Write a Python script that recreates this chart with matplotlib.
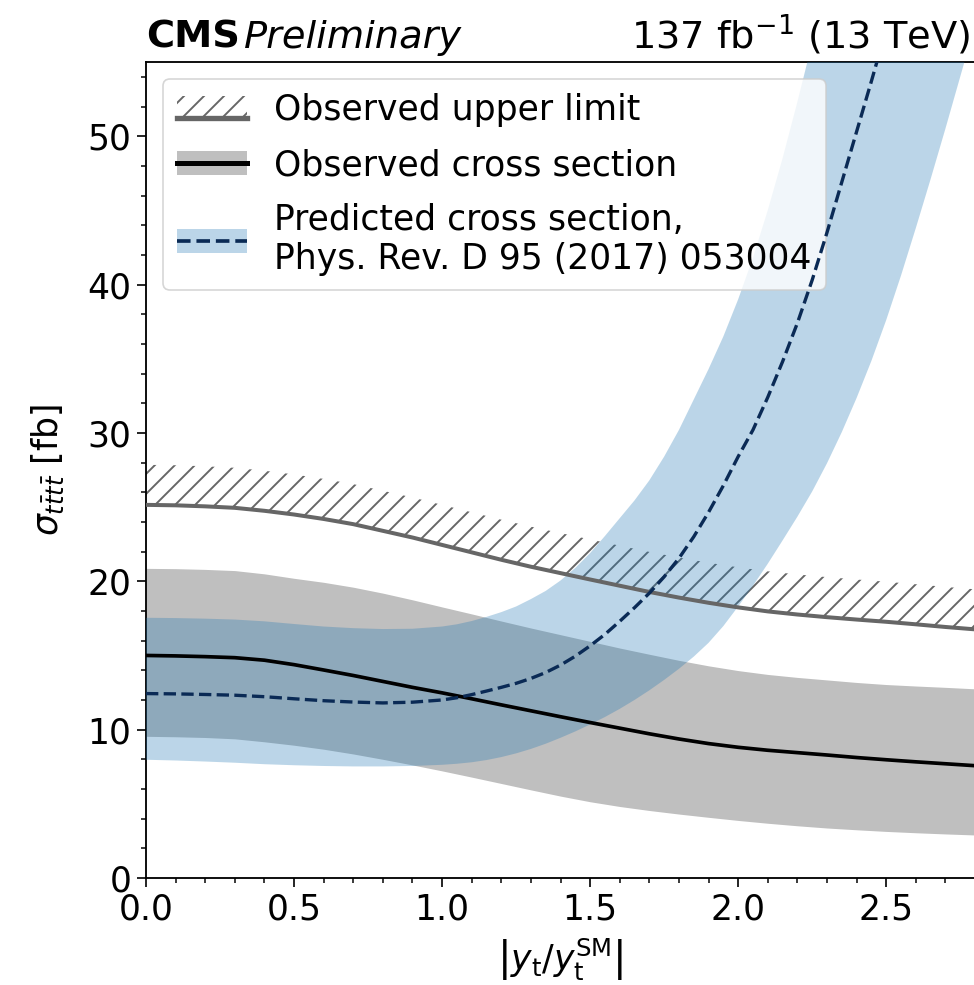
import matplotlib
matplotlib.use("Agg")
import matplotlib.pyplot as plt
from matplotlib.patches import Patch, Rectangle
from matplotlib.lines import Line2D
from matplotlib.legend_handler import HandlerBase, HandlerTuple
from matplotlib.ticker import MultipleLocator

# ---- data -------------------------------------------------------------
# |y_t / y_t^SM| grid of the measurement
kappa_t = [0.0, 0.1, 0.2, 0.3, 0.4, 0.5, 0.6, 0.7, 0.8, 0.9,
           1.0, 1.1, 1.2, 1.3, 1.4, 1.5, 1.6, 1.7, 1.8, 1.9,
           2.0, 2.1, 2.2, 2.3, 2.4, 2.5, 2.6, 2.7, 2.8]

# observed 95% CL upper limit on sigma(tttt) [fb]
obs_limit = [25.15, 25.12, 25.05, 24.95, 24.75, 24.50, 24.20, 23.85, 23.40, 22.95,
             22.45, 21.95, 21.45, 20.98, 20.55, 20.12, 19.70, 19.28, 18.90, 18.55,
             18.24, 17.97, 17.76, 17.58, 17.42, 17.27, 17.10, 16.92, 16.76]

# observed cross section and its uncertainty band [fb]
obs_xsec = [15.00, 14.97, 14.92, 14.85, 14.68, 14.38, 14.02, 13.65, 13.25, 12.85,
            12.48, 12.08, 11.67, 11.27, 10.87, 10.48, 10.10, 9.72, 9.37, 9.06,
            8.81, 8.61, 8.45, 8.29, 8.12, 7.97, 7.83, 7.70, 7.57]
obs_hi = [20.87, 20.85, 20.80, 20.72, 20.50, 20.20, 19.93, 19.60, 19.20, 18.75,
          18.27, 17.80, 17.32, 16.85, 16.40, 15.95, 15.50, 15.08, 14.67, 14.30,
          13.98, 13.72, 13.52, 13.35, 13.18, 13.04, 12.94, 12.85, 12.75]
obs_lo = [9.55, 9.52, 9.47, 9.38, 9.18, 8.95, 8.68, 8.36, 8.00, 7.62,
          7.22, 6.80, 6.37, 5.94, 5.52, 5.14, 4.82, 4.55, 4.31, 4.09,
          3.88, 3.69, 3.52, 3.37, 3.25, 3.14, 3.05, 2.97, 2.90]

# |y_t / y_t^SM| grid of the prediction
kappa_pred = [0.0, 0.1, 0.2, 0.3, 0.4, 0.5, 0.6, 0.7, 0.8, 0.9,
              1.00, 1.05, 1.10, 1.15, 1.20, 1.25, 1.30, 1.35, 1.40, 1.45,
              1.50, 1.55, 1.60, 1.65, 1.70, 1.75, 1.80, 1.85, 1.90, 1.95,
              2.00, 2.05, 2.10, 2.15, 2.20, 2.25, 2.30, 2.35, 2.40, 2.45,
              2.50, 2.55, 2.60, 2.65, 2.70, 2.75, 2.80]

# predicted cross section (Phys. Rev. D 95 (2017) 053004) and its band [fb]
pred_xsec = [12.43, 12.41, 12.37, 12.32, 12.22, 12.08, 11.95, 11.86, 11.80, 11.85,
             12.00, 12.15, 12.36, 12.60, 12.85, 13.12, 13.45, 13.85, 14.35, 14.95,
             15.65, 16.42, 17.30, 18.22, 19.20, 20.30, 21.55, 23.00, 24.65, 26.45,
             28.40, 30.20, 32.40, 34.80, 37.40, 40.30, 43.50, 46.90, 50.30, 53.70,
             57.20, 60.80, 64.50, 68.20, 72.00, 76.00, 80.00]
pred_hi = [17.54, 17.52, 17.48, 17.42, 17.30, 17.12, 16.95, 16.84, 16.78, 16.80,
           16.95, 17.10, 17.32, 17.60, 17.92, 18.30, 18.80, 19.35, 20.05, 20.90,
           21.90, 23.05, 24.25, 25.45, 26.80, 28.40, 30.20, 32.25, 34.30, 36.50,
           39.00, 41.80, 45.00, 48.50, 52.30, 56.30, 60.20, 64.50, 69.00, 74.00,
           79.00, 84.00, 90.00, 96.00, 102.0, 108.0, 115.0]
pred_lo = [7.97, 7.92, 7.85, 7.77, 7.67, 7.60, 7.55, 7.52, 7.52, 7.55,
           7.63, 7.70, 7.80, 7.95, 8.15, 8.40, 8.70, 9.05, 9.45, 9.88,
           10.35, 10.85, 11.40, 12.00, 12.65, 13.35, 14.10, 14.92, 15.85, 16.98,
           18.30, 19.70, 21.18, 22.75, 24.35, 26.05, 27.95, 30.05, 32.35, 34.85,
           37.60, 40.60, 43.80, 47.10, 50.50, 54.00, 57.50]

# extent of the hatched "excluded" strip above the limit curve [fb]
hatch_depth = 2.7

# ---- style ------------------------------------------------------------
DPI = 120
FS = 20.8
plt.rcParams["font.family"] = ["DejaVu Sans"]
plt.rcParams["font.size"] = FS
plt.rcParams["mathtext.fontset"] = "dejavusans"
plt.rcParams["hatch.linewidth"] = 1.15

limit_col = "#666666"
band_gray = "#bfbfbf"
pred_col = "#1f77b4"
pred_line_col = "#0a2a55"

fig = plt.figure(figsize=(974 / DPI, 985 / DPI), dpi=DPI)
ax = fig.add_axes([146 / 974, 107 / 985, 829 / 974, 816 / 985])

# observed band
ax.fill_between(kappa_t, obs_lo, obs_hi, color=band_gray, lw=0, zorder=1)

# hatched strip marking the excluded region above the limit
ax.fill_between(kappa_t, obs_limit, [v + hatch_depth for v in obs_limit],
                facecolor="none", edgecolor=limit_col, hatch="//", lw=0, zorder=2)

# prediction band
ax.fill_between(kappa_pred, pred_lo, pred_hi, color=pred_col, alpha=0.3, lw=0, zorder=3)

ax.plot(kappa_t, obs_limit, color=limit_col, lw=2.4, zorder=4)
ax.plot(kappa_t, obs_xsec, color="black", lw=2.2, zorder=5)
ax.plot(kappa_pred, pred_xsec, color=pred_line_col, lw=2.0, ls="--", zorder=6)

ax.set_xlim(0, 2.8)
ax.set_ylim(0, 55)
ax.xaxis.set_major_locator(MultipleLocator(0.5))
ax.xaxis.set_minor_locator(MultipleLocator(0.1))
ax.yaxis.set_major_locator(MultipleLocator(10))
ax.yaxis.set_minor_locator(MultipleLocator(2))
ax.tick_params(which="major", length=5.4, width=1.0, labelsize=FS)
ax.tick_params(which="minor", length=3.0, width=0.9)
for side in ("left", "bottom", "top"):
    ax.spines[side].set_linewidth(1.1)
ax.spines["right"].set_visible(False)

ax.set_xlabel(r"$\left|y_\mathrm{t}/y_\mathrm{t}^\mathrm{SM}\right|$", fontsize=FS, labelpad=6)
ax.set_ylabel(r"$\sigma_{t\bar{t}t\bar{t}}$ [fb]", fontsize=FS, labelpad=12)


# ---- legend -------------------------------------------------------------
class HatchLimitHandler(HandlerBase):
    """Hatched strip sitting on top of a solid line, as used for limits."""

    def create_artists(self, legend, orig_handle, xdescent, ydescent,
                       width, height, fontsize, trans):
        x0, y0 = -xdescent, -ydescent
        rect = Rectangle((x0, y0 + 0.15 * height), width, 0.85 * height,
                         facecolor="none", edgecolor=limit_col, hatch="//",
                         lw=0, transform=trans)
        line = Line2D([x0, x0 + width], [y0 + 0.1 * height] * 2,
                      color=limit_col, lw=3.2, transform=trans)
        return [rect, line]


limit_handle = Patch(facecolor="none", edgecolor=limit_col, hatch="//")
obs_handle = (Patch(facecolor=band_gray, lw=0), Line2D([], [], color="black", lw=3.0))
pred_handle = (Patch(facecolor=pred_col, alpha=0.3, lw=0),
               Line2D([], [], color=pred_line_col, lw=2.2, ls="--"))

ax.legend([limit_handle, obs_handle, pred_handle],
          ["Observed upper limit", "Observed cross section",
           "Predicted cross section,\nPhys. Rev. D 95 (2017) 053004"],
          handler_map={limit_handle: HatchLimitHandler(),
                       tuple: HandlerTuple(ndivide=1, pad=0)},
          loc="upper left", fontsize=FS, labelspacing=0.6)

# ---- header -------------------------------------------------------------
fig.text(146 / 974, 1 - 48 / 985, "CMS", fontsize=23, fontweight="bold",
         ha="left", va="baseline")
fig.text(244 / 974, 1 - 48 / 985, "Preliminary", fontsize=23, style="italic",
         ha="left", va="baseline")
fig.text(970 / 974, 1 - 48 / 985, r"137 fb$^{-1}$ (13 TeV)", fontsize=23,
         ha="right", va="baseline")

fig.savefig("out.png", dpi=DPI)
